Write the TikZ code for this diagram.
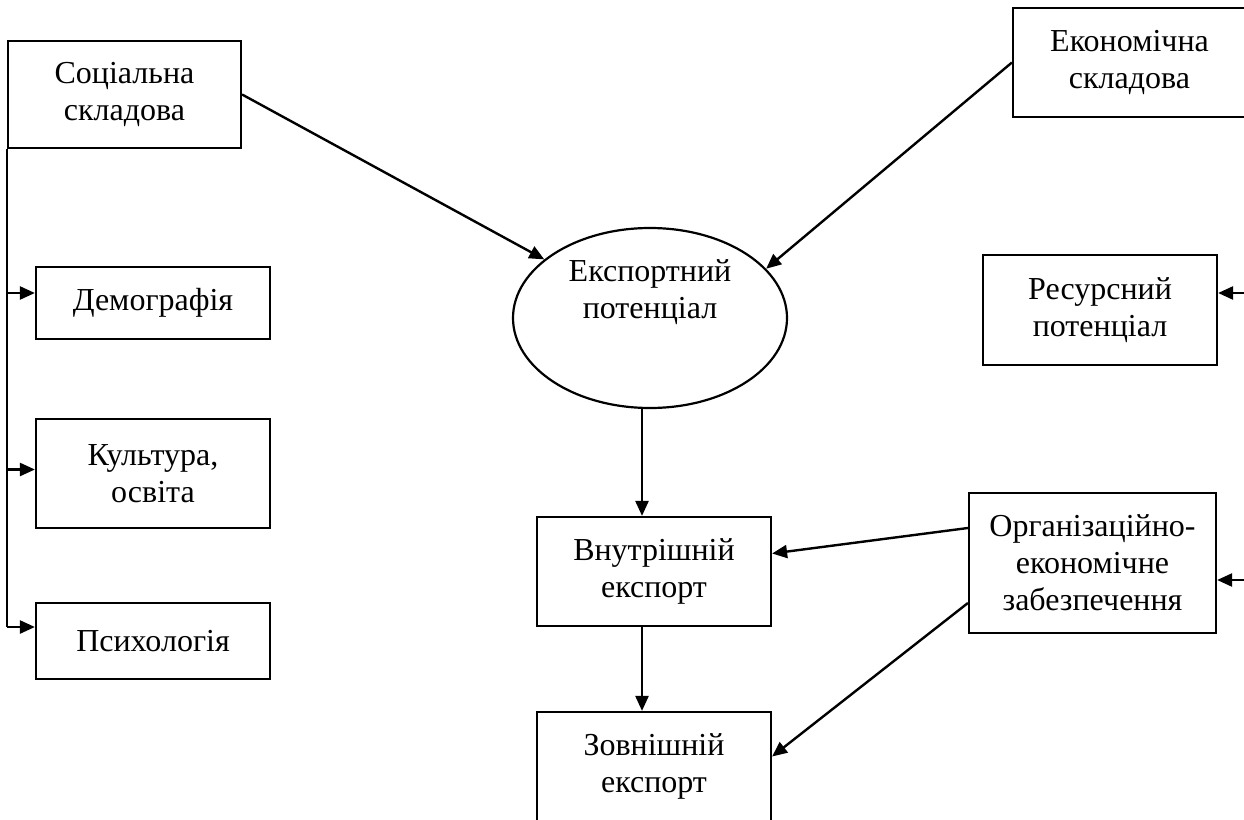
\documentclass[tikz,border=0pt]{standalone}
\usepackage{fontspec}
\setmainfont{Liberation Serif}
\usetikzlibrary{shapes.geometric,arrows.meta}
\begin{document}
\begin{tikzpicture}[x=1pt,y=-1pt,
  every node/.style={font=\fontsize{32}{37}\selectfont, align=center, inner sep=0pt},
  box/.style={draw, line width=2.2pt, rectangle},
  ln/.style={line width=2.4pt},
  arr/.style={line width=2.4pt, -{Triangle[length=15pt,width=13pt]}}]
\useasboundingbox (0,0) rectangle (1244,819);
% nodes
\node[box, minimum width=233pt, minimum height=107pt] (soc) at (124.5,94.5) {Соціальна\\складова};
\node[box, minimum width=234pt, minimum height=72pt] (dem) at (153,303) {Демографія};
\node[box, minimum width=234pt, minimum height=109pt] (cul) at (153,473.5) {Культура,\\освіта};
\node[box, minimum width=234pt, minimum height=76pt] (psy) at (153,641) {Психологія};
\node[box, minimum width=233pt, minimum height=109pt] (eco) at (1129.5,62.5) {Економічна\\складова};
\node[draw, line width=2.2pt, ellipse, minimum width=274pt, minimum height=180pt,
  label={[yshift=26pt]center:{Експортний\\потенціал}}] (ell) at (650,318) {};
\node[box, minimum width=234pt, minimum height=109pt] (int) at (654,571.5) {Внутрішній\\експорт};
\node[box, minimum width=234pt, minimum height=109pt] (ext) at (654,766.5) {Зовнішній\\експорт};
\node[box, minimum width=234pt, minimum height=110pt] (res) at (1100,310) {Ресурсний\\потенціал};
\node[box, minimum width=247pt, minimum height=140pt] (org) at (1092.5,563) {Організаційно-\\економічне\\забезпечення};
\coordinate (rin) at (1250,293);
\coordinate (oin) at (1250,580);
% connectors
\draw[arr] (soc.east) -- (ell.151);
\draw[arr] (eco.west) -- (ell.23);
\draw[arr] ([xshift=-12pt]int.north |- ell.south) -- ([xshift=-12pt]int.north);
\draw[arr] ([xshift=-12pt]int.south) -- ([xshift=-12pt]ext.north);
\draw[ln] (soc.south west) -- ([yshift=14pt]soc.south west |- psy.west);
\draw[arr] ([yshift=10pt]soc.south west |- dem.west) -- ([yshift=10pt]dem.west);
\draw[arr] ([yshift=4pt]soc.south west |- cul.west) -- ([yshift=4pt]cul.west);
\draw[arr] ([yshift=14pt]soc.south west |- psy.west) -- ([yshift=14pt]psy.west);
\draw[arr] ([yshift=35pt]org.west) -- ([yshift=18pt]int.east);
\draw[arr] ([yshift=-40pt]org.west) -- ([yshift=10pt]ext.east);
\draw[arr] (rin) -- (rin -| res.east);
\draw[arr] (oin) -- (oin -| org.east);
\end{tikzpicture}
\end{document}
